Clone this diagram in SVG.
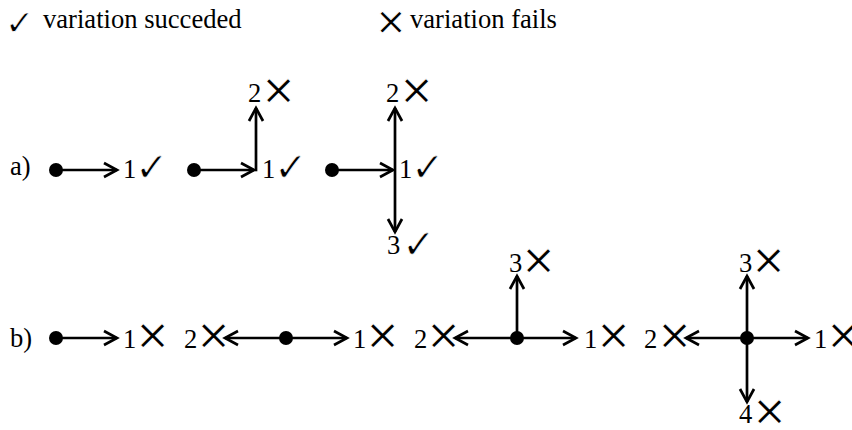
<svg xmlns="http://www.w3.org/2000/svg" width="852" height="430" viewBox="0 0 852 430">
<style>
.t{font-family:"Liberation Serif","DejaVu Serif",serif;font-size:26.6px;fill:#000}
.ok{font-family:"DejaVu Sans",sans-serif;font-size:40px;fill:#000;stroke:#fff;stroke-width:0.8}
.no{font-family:"DejaVu Sans",sans-serif;font-size:42px;fill:#000;stroke:#fff;stroke-width:1.1;letter-spacing:-10px}
.lok{font-family:"DejaVu Sans",sans-serif;font-size:35px;fill:#000;stroke:#fff;stroke-width:0.7}
.lno{font-family:"DejaVu Sans",sans-serif;font-size:38px;fill:#000;stroke:#fff;stroke-width:1}
.c line{stroke:#000;stroke-width:2.7;fill:none}
.e{marker-end:url(#ah)}
.s{marker-start:url(#ahs)}
</style>
<defs>
<marker id="ah" markerUnits="userSpaceOnUse" viewBox="-16 -10 18 20" markerWidth="18" markerHeight="20" refX="0" refY="0" orient="auto" overflow="visible">
<path d="M-13,-7 L0,0 L-13,7" fill="none" stroke="#000" stroke-width="2.7" stroke-linejoin="miter"/>
</marker>
<marker id="ahs" markerUnits="userSpaceOnUse" viewBox="-16 -10 18 20" markerWidth="18" markerHeight="20" refX="0" refY="0" orient="auto-start-reverse" overflow="visible">
<path d="M-13,-7 L0,0 L-13,7" fill="none" stroke="#000" stroke-width="2.7" stroke-linejoin="miter"/>
</marker>
</defs>
<g id="legend">
<text class="lok" x="5" y="35">✓</text>
<text class="t" x="43" y="28">variation succeded</text>
<text class="lno" x="375" y="36">✕</text>
<text class="t" x="410" y="28">variation fails</text>
</g>
<g id="labels">
<text class="t" x="10" y="175">a)</text>
<text class="t" x="10" y="347">b)</text>
</g>
<g id="a1">
<circle id="a1-src" cx="56" cy="170" r="7"/>
<text id="a1-n1" class="t" x="123" y="178">1<tspan class="ok" dx="-1.3" dy="3">✓</tspan></text>
</g>
<g id="a2">
<circle id="a2-src" cx="194" cy="170" r="7"/>
<text id="a2-n1" class="t" x="262" y="178">1<tspan class="ok" dx="-1.3" dy="3">✓</tspan></text>
<text id="a2-n2" class="t" x="248" y="102">2<tspan class="no" dx="-0.3" dy="4">✕</tspan></text>
</g>
<g id="a3">
<circle id="a3-src" cx="332" cy="170" r="7"/>
<text id="a3-n1" class="t" x="399" y="178">1<tspan class="ok" dx="-1.3" dy="3">✓</tspan></text>
<text id="a3-n2" class="t" x="386" y="102">2<tspan class="no" dx="-0.3" dy="4">✕</tspan></text>
<text id="a3-n3" class="t" x="387" y="254">3<tspan class="ok" dx="1.7" dy="4">✓</tspan></text>
</g>
<g id="b1">
<circle id="b1-src" cx="56" cy="338" r="7"/>
<text id="b1-n1" class="t" x="123" y="348">1<tspan class="no" dx="-1.3" dy="3">✕</tspan></text>
</g>
<g id="b2">
<circle id="b2-src" cx="286" cy="338" r="7"/>
<text id="b2-n1" class="t" x="353" y="348">1<tspan class="no" dx="-1.3" dy="3">✕</tspan></text>
<text id="b2-n2" class="t" x="184" y="348">2<tspan class="no" dx="-1.3" dy="3">✕</tspan></text>
</g>
<g id="b3">
<circle id="b3-src" cx="517" cy="338" r="7"/>
<text id="b3-n1" class="t" x="584" y="348">1<tspan class="no" dx="-1.3" dy="3">✕</tspan></text>
<text id="b3-n2" class="t" x="414" y="348">2<tspan class="no" dx="-1.3" dy="3">✕</tspan></text>
<text id="b3-n3" class="t" x="509" y="272">3<tspan class="no" dx="-1.3" dy="4">✕</tspan></text>
</g>
<g id="b4">
<circle id="b4-src" cx="747" cy="338" r="7"/>
<text id="b4-n1" class="t" x="814" y="348">1<tspan class="no" dx="-1.3" dy="3">✕</tspan></text>
<text id="b4-n2" class="t" x="644" y="348">2<tspan class="no" dx="-0.3" dy="3">✕</tspan></text>
<text id="b4-n3" class="t" x="739" y="272">3<tspan class="no" dx="-1.3" dy="4">✕</tspan></text>
<text id="b4-n4" class="t" x="739" y="423">4<tspan class="no" dx="-0.3" dy="4">✕</tspan></text>
</g>
<g id="connectors" class="c">
<line class="e" x1="56" y1="170" x2="117" y2="170"/>
<line class="e" x1="194" y1="170" x2="254" y2="170"/>
<line class="e" x1="256" y1="171.3" x2="256" y2="108"/>
<line class="e" x1="332" y1="170" x2="393" y2="170"/>
<line class="s e" x1="395" y1="232" x2="395" y2="108"/>
<line class="e" x1="56" y1="338" x2="117" y2="338"/>
<line class="e" x1="286" y1="338" x2="225" y2="338"/>
<line class="e" x1="286" y1="338" x2="347" y2="338"/>
<line class="e" x1="517" y1="338" x2="455" y2="338"/>
<line class="e" x1="517" y1="338" x2="576" y2="338"/>
<line class="e" x1="517" y1="338" x2="517" y2="276"/>
<line class="e" x1="747" y1="338" x2="686" y2="338"/>
<line class="e" x1="747" y1="338" x2="808" y2="338"/>
<line class="e" x1="747" y1="338" x2="747" y2="276"/>
<line class="e" x1="747" y1="338" x2="747" y2="402"/>
</g>
</svg>
